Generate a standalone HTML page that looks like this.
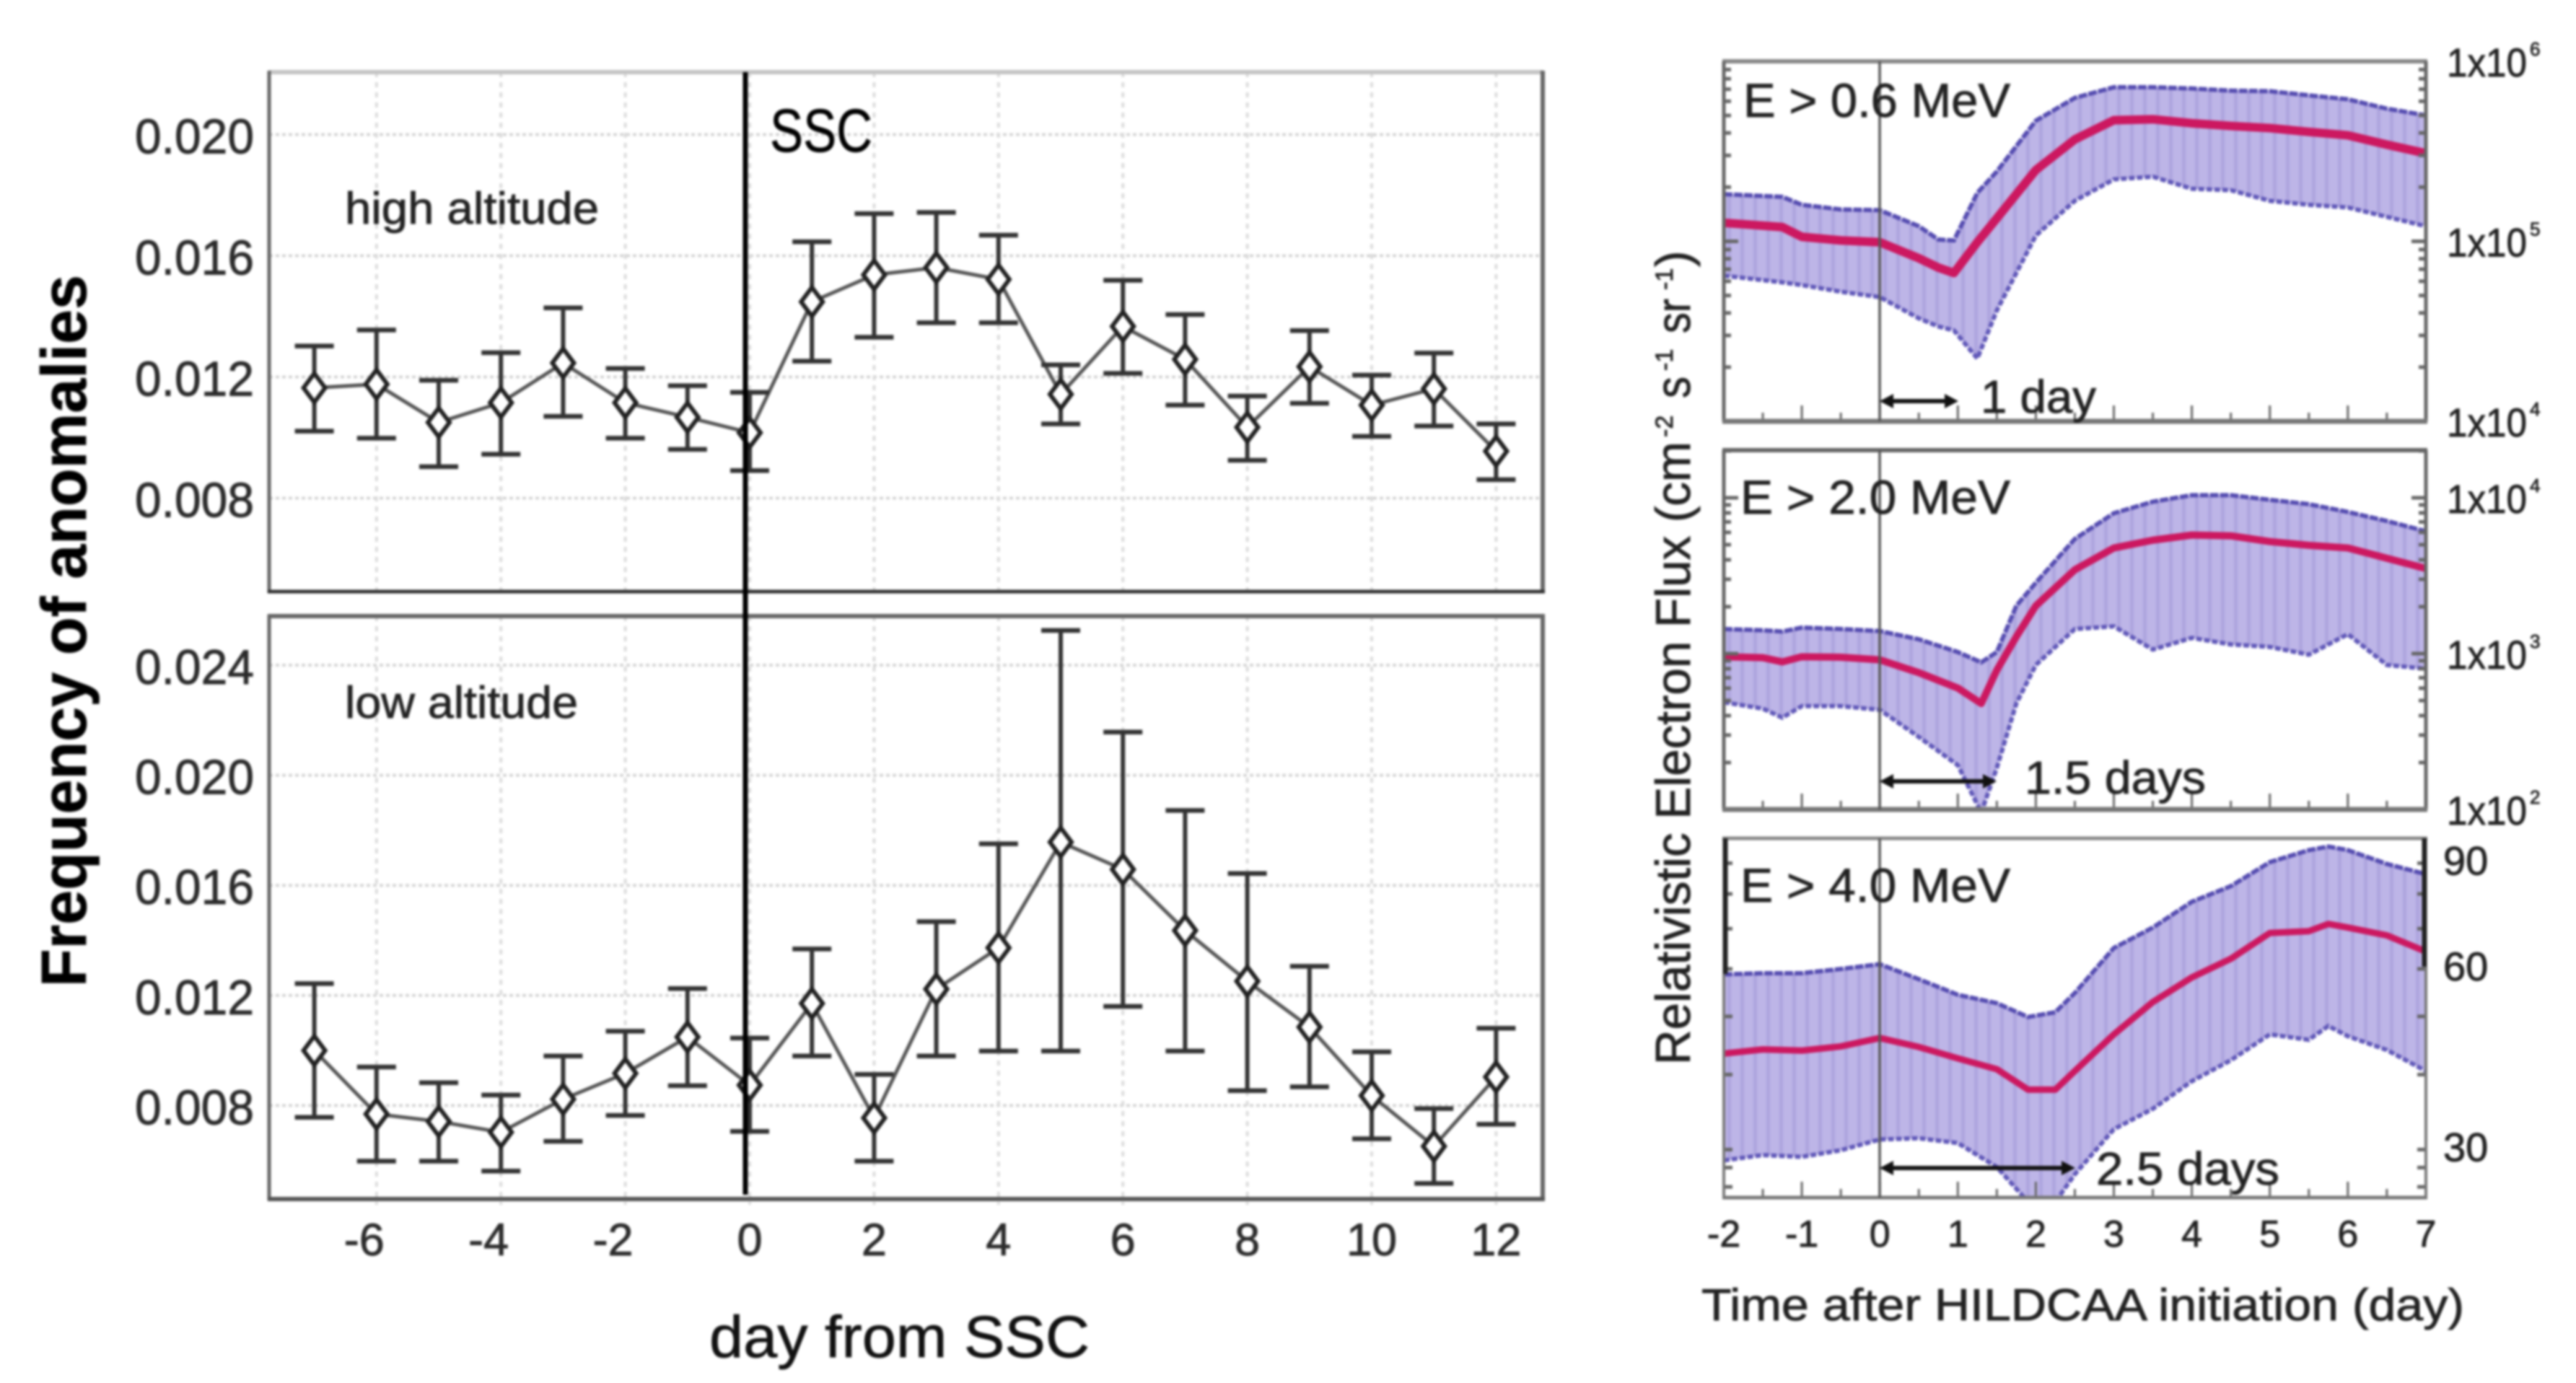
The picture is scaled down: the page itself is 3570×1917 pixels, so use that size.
<!DOCTYPE html>
<html lang="en">
<head>
<meta charset="utf-8">
<title>Anomaly frequency and relativistic electron flux</title>
<style>
html,body{margin:0;padding:0;background:#fff;}
#figure{display:block;width:3570px;height:1917px;filter:blur(1.5px);}
text{font-family:"Liberation Sans",sans-serif;stroke:rgba(20,20,20,.65);stroke-width:1.2px;}
</style>
</head>
<body>
<svg id="figure" xmlns="http://www.w3.org/2000/svg" width="3570" height="1917" viewBox="0 0 3570 1917">
  <defs>
    <pattern id="stripes" patternUnits="userSpaceOnUse" width="18" height="40">
      <rect width="18" height="40" fill="#bdb5e7"/>
      <rect width="5" height="40" fill="#aea5de"/>
    </pattern>
    <clipPath id="clip-a"><rect x="2389" y="85" width="973" height="499"/></clipPath>
    <clipPath id="clip-b"><rect x="2389" y="624" width="973" height="498"/></clipPath>
    <clipPath id="clip-c"><rect x="2389" y="1162" width="973" height="498"/></clipPath>
  </defs>
  <rect width="3570" height="1917" fill="#fff"/>

  <g id="left-grid"></g>
  <g id="left-frames">
    <line x1="373" y1="100" x2="2138" y2="100" stroke="#c4c4c4" stroke-width="6"/>
    <line x1="373" y1="98" x2="373" y2="822" stroke="#666" stroke-width="5"/>
    <line x1="2138" y1="98" x2="2138" y2="822" stroke="#666" stroke-width="6"/>
    <line x1="371" y1="820" x2="2141" y2="820" stroke="#333" stroke-width="5"/>
    <line x1="371" y1="854" x2="2141" y2="854" stroke="#666" stroke-width="6"/>
    <line x1="373" y1="852" x2="373" y2="1664" stroke="#666" stroke-width="5"/>
    <line x1="2138" y1="852" x2="2138" y2="1664" stroke="#666" stroke-width="6"/>
    <line x1="371" y1="1662" x2="2141" y2="1662" stroke="#555" stroke-width="6"/>
  </g>
  <g id="high-series"></g>
  <g id="low-series"></g>
  <g id="left-labels"></g>

  <line x1="1033" y1="100" x2="1033" y2="1656" stroke="#000" stroke-width="7"/>
  <text x="1067" y="210" font-size="84" fill="#000" textLength="142" lengthAdjust="spacingAndGlyphs">SSC</text>
  <text x="478" y="310" font-size="62" fill="#222" textLength="352" lengthAdjust="spacingAndGlyphs">high altitude</text>
  <text x="478" y="995" font-size="62" fill="#222" textLength="323" lengthAdjust="spacingAndGlyphs">low altitude</text>
  <text x="983" y="1881" font-size="82" fill="#111" textLength="527" lengthAdjust="spacingAndGlyphs">day from SSC</text>
  <text transform="translate(119,1368) rotate(-90)" font-size="88" font-weight="bold" fill="#000" textLength="987" lengthAdjust="spacingAndGlyphs">Frequency of anomalies</text>

  <g id="flux-a" clip-path="url(#clip-a)"></g>
  <g id="flux-b" clip-path="url(#clip-b)"></g>
  <g id="flux-c" clip-path="url(#clip-c)"></g>
  <g id="flux-ticks"></g>
  <g id="flux-labels"></g>

  <g>
    <line x1="2387" y1="85" x2="3364" y2="85" stroke="#888" stroke-width="6"/>
    <line x1="2389" y1="85" x2="2389" y2="584" stroke="#666" stroke-width="5"/>
    <line x1="3362" y1="85" x2="3362" y2="584" stroke="#666" stroke-width="5"/>
    <line x1="2387" y1="584" x2="3364" y2="584" stroke="#777" stroke-width="7"/>
    <line x1="2387" y1="624" x2="3364" y2="624" stroke="#666" stroke-width="6"/>
    <line x1="2389" y1="624" x2="2389" y2="1122" stroke="#666" stroke-width="5"/>
    <line x1="3362" y1="624" x2="3362" y2="1122" stroke="#666" stroke-width="5"/>
    <line x1="2387" y1="1122" x2="3364" y2="1122" stroke="#777" stroke-width="7"/>
    <line x1="2387" y1="1162" x2="3364" y2="1162" stroke="#888" stroke-width="5"/>
    <line x1="2391" y1="1162" x2="2391" y2="1350" stroke="#222" stroke-width="7"/>
    <line x1="2389" y1="1350" x2="2389" y2="1660" stroke="#777" stroke-width="4"/>
    <line x1="3360" y1="1162" x2="3360" y2="1340" stroke="#222" stroke-width="7"/>
    <line x1="3362" y1="1340" x2="3362" y2="1660" stroke="#777" stroke-width="4"/>
    <line x1="2387" y1="1660" x2="3364" y2="1660" stroke="#777" stroke-width="5"/>
    <line x1="2605" y1="85" x2="2605" y2="584" stroke="#555" stroke-width="3.5"/>
    <line x1="2605" y1="624" x2="2605" y2="1122" stroke="#555" stroke-width="3.5"/>
    <line x1="2605" y1="1162" x2="2605" y2="1660" stroke="#555" stroke-width="3.5"/>
  </g>

  <g stroke="#111" fill="#111">
    <g>
      <line x1="2612" y1="556" x2="2707" y2="556" stroke-width="6"/>
      <polygon points="2605,556 2624,546 2624,566" stroke="none"/>
      <polygon points="2714,556 2695,546 2695,566" stroke="none"/>
    </g>
    <g>
      <line x1="2612" y1="1083" x2="2760" y2="1083" stroke-width="6"/>
      <polygon points="2605,1083 2624,1073 2624,1093" stroke="none"/>
      <polygon points="2767,1083 2748,1073 2748,1093" stroke="none"/>
    </g>
    <g>
      <line x1="2612" y1="1619" x2="2869" y2="1619" stroke-width="6"/>
      <polygon points="2605,1619 2624,1609 2624,1629" stroke="none"/>
      <polygon points="2876,1619 2857,1609 2857,1629" stroke="none"/>
    </g>
  </g>

  <text x="2416" y="162" font-size="66" fill="#222" textLength="370" lengthAdjust="spacingAndGlyphs">E &gt; 0.6 MeV</text>
  <text x="2412" y="712" font-size="66" fill="#222" textLength="374" lengthAdjust="spacingAndGlyphs">E &gt; 2.0 MeV</text>
  <text x="2412" y="1250" font-size="66" fill="#222" textLength="374" lengthAdjust="spacingAndGlyphs">E &gt; 4.0 MeV</text>
  <text x="2745" y="572" font-size="64" fill="#222" textLength="160" lengthAdjust="spacingAndGlyphs">1 day</text>
  <text x="2806" y="1100" font-size="64" fill="#222" textLength="251" lengthAdjust="spacingAndGlyphs">1.5 days</text>
  <text x="2905" y="1642" font-size="64" fill="#222" textLength="254" lengthAdjust="spacingAndGlyphs">2.5 days</text>
  <text x="2358" y="1830" font-size="62" fill="#222" textLength="1057" lengthAdjust="spacingAndGlyphs">Time after HILDCAA initiation (day)</text>

  <g fill="#222">
    <text transform="translate(2342,1476) rotate(-90)" font-size="68" textLength="864" lengthAdjust="spacingAndGlyphs">Relativistic Electron Flux (cm</text>
    <text transform="translate(2318,606) rotate(-90)" font-size="34">-2</text>
    <text transform="translate(2342,552) rotate(-90)" font-size="68" textLength="30" lengthAdjust="spacingAndGlyphs">s</text>
    <text transform="translate(2318,514) rotate(-90)" font-size="34">-1</text>
    <text transform="translate(2342,462) rotate(-90)" font-size="66" textLength="48" lengthAdjust="spacingAndGlyphs">sr</text>
    <text transform="translate(2318,402) rotate(-90)" font-size="34">-1</text>
    <text transform="translate(2342,370) rotate(-90)" font-size="68">)</text>
  </g>
</svg>

<script>
// ---- Left chart data (frequency of anomalies) ----
const anomalyDays = [-7,-6,-5,-4,-3,-2,-1,0,1,2,3,4,5,6,7,8,9,10,11,12];
const highMean  = [.01164,.01176,.01050,.01115,.01246,.01115,.01067,.01016,.01448,.01537,.01561,.01522,.01143,.01367,.01258,.01034,.01234,.01107,.01161,.00955];
const highUpper = [.01302,.01355,.01189,.01280,.01428,.01228,.01171,.01149,.01646,.01739,.01743,.01668,.01240,.01519,.01406,.01137,.01353,.01206,.01279,.01045];
const highLower = [.01021,.00998,.00904,.00945,.01070,.00998,.00961,.00891,.01252,.01331,.01379,.01379,.01045,.01212,.01107,.00925,.01113,.01004,.01038,.00861];
const lowMean   = [.01000,.00769,.00742,.00703,.00823,.00917,.01049,.00874,.01171,.00755,.01223,.01373,.01757,.01658,.01436,.01252,.01085,.00836,.00652,.00904];
const lowUpper  = [.01243,.00940,.00883,.00838,.00980,.01070,.01225,.01045,.01369,.00913,.01468,.01751,.02526,.02157,.01872,.01643,.01306,.00995,.00789,.01081];
const lowLower  = [.00757,.00598,.00598,.00562,.00670,.00764,.00872,.00706,.00980,.00598,.00980,.00998,.00998,.01160,.00998,.00854,.00868,.00679,.00517,.00732];
const highTicks = [0.020,0.016,0.012,0.008];
const lowTicks  = [0.024,0.020,0.016,0.012,0.008];
const leftXTicks = [-6,-4,-2,0,2,4,6,8,10,12];

// ---- Right chart data (log10 of flux) ----
const fluxTicksX = [-2,-1,0,1,2,3,4,5,6,7];
const daysA = [-2,-1.25,-1,-.5,0,.5,.75,.95,1.25,1.5,2,2.5,3,3.5,4,4.5,5,5.5,6,6.5,7];
const meanA = [5.103,5.079,5.025,5.005,4.995,4.906,4.854,4.824,4.995,5.128,5.396,5.566,5.673,5.678,5.656,5.641,5.629,5.608,5.589,5.537,5.489];
const upperA = [5.262,5.247,5.203,5.177,5.173,5.084,5.010,5.005,5.269,5.388,5.670,5.797,5.856,5.856,5.849,5.837,5.834,5.811,5.789,5.737,5.700];
const lowerA = [4.809,4.772,4.757,4.720,4.690,4.572,4.527,4.505,4.349,4.616,5.032,5.225,5.344,5.359,5.292,5.284,5.225,5.203,5.188,5.136,5.084];

const daysB = [-2,-1.5,-1.25,-1,-.5,0,.5,1,1.3,1.5,1.75,2,2.5,3,3.5,4,4.5,5,5.5,6,6.5,7];
const meanB = [2.980,2.974,2.947,2.980,2.977,2.960,2.878,2.779,2.680,2.894,3.109,3.307,3.538,3.678,3.728,3.761,3.756,3.719,3.695,3.678,3.612,3.546];
const upperB = [3.158,3.150,3.142,3.167,3.158,3.145,3.092,3.010,2.944,3.010,3.307,3.455,3.736,3.901,3.975,4.017,4.017,3.987,3.959,3.909,3.851,3.785];
const lowerB = [2.688,2.647,2.589,2.663,2.663,2.639,2.465,2.284,1.980,2.267,2.680,2.927,3.158,3.175,3.026,3.101,3.059,3.043,2.993,3.125,2.927,2.903];

const daysC = [-2,-1.5,-1,-.5,0,.5,1,1.5,1.9,2.25,2.5,3,3.5,4,4.5,5,5.5,5.75,6,6.5,7];
const meanC = [1.637,1.644,1.642,1.649,1.663,1.648,1.629,1.611,1.577,1.577,1.608,1.669,1.723,1.764,1.795,1.838,1.841,1.853,1.847,1.834,1.807];
const upperC = [1.769,1.771,1.771,1.778,1.786,1.761,1.735,1.721,1.698,1.706,1.738,1.813,1.847,1.890,1.916,1.956,1.976,1.982,1.976,1.953,1.936];
const lowerC = [1.459,1.468,1.465,1.476,1.494,1.496,1.488,1.448,1.390,1.390,1.436,1.511,1.545,1.591,1.626,1.669,1.660,1.683,1.666,1.643,1.608];

const logTicksA = [4,5,6];
const logTicksB = [2,3,4];
const minorMultipliers = [2,3,4,5,6,7,8,9];
const countTicksC = [26,28,30,40,50,60,70,80,90];
const countLabelsC = [90,60,30];

// ---- Axis functions ----
const xLeft = d => 1039 + d * 86.2;
const yHigh = v => 186.5 + (0.020 - v) / 0.004 * 168;
const yLow  = v => 922 + (0.024 - v) / 0.004 * 152.6;
const xFlux = d => 2389 + (d + 2) * 108.1;
const yFluxA = l => 584 - (l - 4) * 249.5;
const yFluxB = l => 1122 - (l - 2) * 216;
const yFluxC = l => 1343 - (l - Math.log10(60)) * 832;

const NS = 'http://www.w3.org/2000/svg';
function mk(parent, tag, attrs) {
  const el = document.createElementNS(NS, tag);
  for (const k in attrs) el.setAttribute(k, attrs[k]);
  parent.appendChild(el);
  return el;
}

// ---- Left grid and tick labels ----
const gridG = document.getElementById('left-grid');
const leftLabels = document.getElementById('left-labels');
function drawLeftAxes(ticks, yFn, top, bottom) {
  ticks.forEach(t => {
    const g = mk(gridG, 'line', {x1:373,x2:2138,y1:yFn(t),y2:yFn(t),stroke:'#d4d4d4','stroke-width':4,'stroke-dasharray':'5 4'});
    
    
    const lab = mk(leftLabels, 'text', {x:352,y:yFn(t)+26,'font-size':68,fill:'#2c2c2c','text-anchor':'end',textLength:165,lengthAdjust:'spacingAndGlyphs'});
    lab.textContent = t.toFixed(3);
    
    
  });
  leftXTicks.forEach(d => {
    const g = mk(gridG, 'line', {x1:xLeft(d),x2:xLeft(d),y1:top,y2:bottom+8,stroke:'#dcdcdc','stroke-width':4,'stroke-dasharray':'7 7'});
    
    
  });
}
drawLeftAxes(highTicks, yHigh, 100, 820);
drawLeftAxes(lowTicks, yLow, 854, 1662);
leftXTicks.forEach(d => {
  const lab = mk(leftLabels, 'text', {x:xLeft(d)+(d<0?-17:0),y:1740,'font-size':63,fill:'#2c2c2c','text-anchor':'middle'});
  lab.textContent = String(d);
  
  
});

// ---- Left series ----
function drawErrorSeries(group, mean, upper, lower, yFn) {
  const pts = anomalyDays.map((d,i) => xLeft(d)+','+yFn(mean[i])).join(' ');
  const line = mk(group, 'polyline', {points:pts,fill:'none',stroke:'#555','stroke-width':5});
  
  
  anomalyDays.forEach((d,i) => {
    const x = xLeft(d);
    const stem = mk(group, 'line', {x1:x,x2:x,y1:yFn(upper[i]),y2:yFn(lower[i]),stroke:'#333','stroke-width':6});
    
    
    const capTop = mk(group, 'line', {x1:x-27,x2:x+27,y1:yFn(upper[i]),y2:yFn(upper[i]),stroke:'#333','stroke-width':6.5});
    
    
    const capBot = mk(group, 'line', {x1:x-27,x2:x+27,y1:yFn(lower[i]),y2:yFn(lower[i]),stroke:'#333','stroke-width':6.5});
    
    
    const y = yFn(mean[i]);
    const dia = mk(group, 'polygon', {points:[x,y-20,x+15,y,x,y+20,x-15,y].join(' '),fill:'#fff',stroke:'#222','stroke-width':6});
    
    
  });
}
drawErrorSeries(document.getElementById('high-series'), highMean, highUpper, highLower, yHigh);
drawErrorSeries(document.getElementById('low-series'), lowMean, lowUpper, lowLower, yLow);

// ---- Right series ----
function drawFlux(group, days, mean, upper, lower, yFn, meanWidth) {
  const up = days.map((d,i) => xFlux(d)+','+yFn(upper[i]));
  const lo = days.map((d,i) => xFlux(d)+','+yFn(lower[i]));
  const band = mk(group, 'polygon', {points:up.concat(lo.slice().reverse()).join(' '),fill:'url(#stripes)'});
  
  
  const upLine = mk(group, 'polyline', {points:up.join(' '),fill:'none',stroke:'#554cb0','stroke-width':6,'stroke-dasharray':'12 2'});
  
  
  const loLine = mk(group, 'polyline', {points:lo.join(' '),fill:'none',stroke:'#6058b8','stroke-width':6,'stroke-dasharray':'8 3'});
  
  
  const m = mk(group, 'polyline', {points:days.map((d,i) => xFlux(d)+','+yFn(mean[i])).join(' '),fill:'none',stroke:'#cc1860','stroke-width':meanWidth,'stroke-linejoin':'round'});
  
  
}
drawFlux(document.getElementById('flux-a'), daysA, meanA, upperA, lowerA, yFluxA, 12);
drawFlux(document.getElementById('flux-b'), daysB, meanB, upperB, lowerB, yFluxB, 10);
drawFlux(document.getElementById('flux-c'), daysC, meanC, upperC, lowerC, yFluxC, 9);

// ---- Right ticks and labels ----
const fluxTicks = document.getElementById('flux-ticks');
const fluxLabels = document.getElementById('flux-labels');
function sideTick(y, len, top, bottom) {
  if (y < top || y > bottom) return;
  const a = mk(fluxTicks, 'line', {x1:2389,x2:2389+len,y1:y,y2:y,stroke:'#666','stroke-width':5});
  
  
  const b = mk(fluxTicks, 'line', {x1:3362-len,x2:3362,y1:y,y2:y,stroke:'#666','stroke-width':5});
  
  
}
function decadeTicks(decades, yFn, top, bottom) {
  decades.forEach(e => {
    sideTick(yFn(e), 20, top, bottom);
    minorMultipliers.forEach(m => sideTick(yFn(e + Math.log10(m)), 10, top, bottom));
    const lab = mk(fluxLabels, 'text', {x:3391,y:yFn(e)+21,'font-size':56,fill:'#222',textLength:111,lengthAdjust:'spacingAndGlyphs'});
    lab.textContent = '1x10';
    
    
    const sup = mk(fluxLabels, 'text', {x:3506,y:yFn(e)-8,'font-size':26,fill:'#222'});
    sup.textContent = String(e);
    
    
  });
}
decadeTicks(logTicksA, yFluxA, 85, 584);
decadeTicks(logTicksB, yFluxB, 624, 1122);
countTicksC.forEach(v => sideTick(yFluxC(Math.log10(v)), 12, 1162, 1660));
countLabelsC.forEach(v => {
  const lab = mk(fluxLabels, 'text', {x:3386,y:yFluxC(Math.log10(v))+16,'font-size':56,fill:'#222'});
  lab.textContent = String(v);
  
  
});
[584,1122,1660].forEach(base => {
  fluxTicksX.forEach(d => {
    const t = mk(fluxTicks, 'line', {x1:xFlux(d),x2:xFlux(d),y1:base-22,y2:base,stroke:'#666','stroke-width':3});
    
    
    if (d < 7) {
      const tm = mk(fluxTicks, 'line', {x1:xFlux(d+0.5),x2:xFlux(d+0.5),y1:base-12,y2:base,stroke:'#666','stroke-width':3});
      
      
    }
  });
});
fluxTicksX.forEach(d => {
  const lab = mk(fluxLabels, 'text', {x:xFlux(d),y:1728,'font-size':52,fill:'#222','text-anchor':'middle'});
  lab.textContent = String(d);
  
  
});
</script>
</body>
</html>
